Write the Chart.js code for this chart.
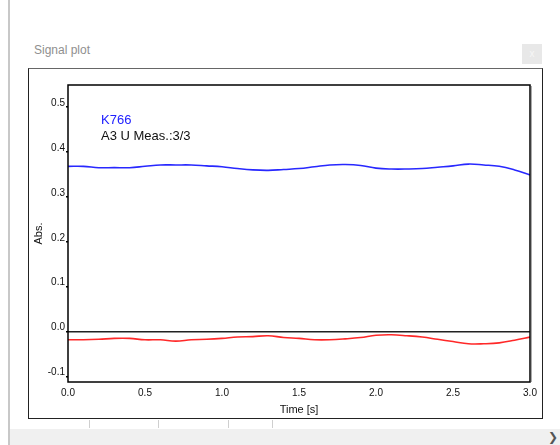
<!DOCTYPE html>
<html>
<head>
<meta charset="utf-8">
<script src="https://cdn.jsdelivr.net/npm/chart.js@4/dist/chart.umd.min.js"></script>
<style>
  body { margin: 0; width: 560px; height: 445px; background: #fff; position: relative; overflow: hidden; font-family: "Liberation Sans", Arial, sans-serif; }
  #sideBar { position: absolute; left: 8px; top: 0; width: 2px; height: 445px; background: #c8c8c8; }
  #title { position: absolute; left: 34px; top: 43px; font-size: 12px; line-height: 14px; color: #8f8f8f; }
  #closeBtn { position: absolute; left: 522px; top: 44px; width: 20px; height: 20px; background: #e8e8e8; color: #f6f6f6; font-size: 10px; line-height: 20px; text-align: center; }
  #box { position: absolute; left: 28px; top: 68px; width: 513px; height: 349px; border: 1px solid #222; border-top: 1px solid #666; }
  .legendLine { position: absolute; left: 72px; font-size: 13px; line-height: 16.7px; white-space: nowrap; }
  .tabTick { position: absolute; top: 420px; width: 1px; height: 8px; background: #cfcfcf; }
  #bottomBar { position: absolute; left: 10px; top: 429px; width: 550px; height: 16px; background: #f0f0f0; }
  #arrow { position: absolute; right: 2px; top: 429px; font-size: 12px; line-height: 16px; color: #555; }
</style>
</head>
<body>
<div id="sideBar"></div>
<div id="title">Signal plot</div>
<div id="closeBtn">x</div>
<div id="box">
  <canvas id="signalChart" width="513" height="349"></canvas>
  <div class="legendLine" style="top:42.5px;color:#2020ff;">K766</div>
  <div class="legendLine" style="top:59.2px;color:#111;">A3 U Meas.:3/3</div>
</div>
<div class="tabTick" style="left:89px"></div>
<div class="tabTick" style="left:158px"></div>
<div class="tabTick" style="left:228px"></div>
<div class="tabTick" style="left:272px"></div>
<div id="bottomBar"></div>
<div id="arrow">&#x276F;</div>
<script>
const times = [0.0, 0.1, 0.2, 0.3, 0.4, 0.5, 0.6, 0.7, 0.8, 0.9,
               1.0, 1.1, 1.2, 1.3, 1.4, 1.5, 1.6, 1.7, 1.8, 1.9,
               2.0, 2.1, 2.2, 2.3, 2.4, 2.5, 2.6, 2.7, 2.8, 2.9, 3.0];
const blueValues = [0.368, 0.368, 0.365, 0.365, 0.365, 0.368, 0.371, 0.371, 0.371, 0.369,
                    0.367, 0.363, 0.360, 0.359, 0.361, 0.363, 0.367, 0.371, 0.372, 0.370,
                    0.364, 0.362, 0.362, 0.363, 0.366, 0.369, 0.373, 0.371, 0.368, 0.360, 0.349];
const redValues = [-0.018, -0.018, -0.017, -0.015, -0.015, -0.018, -0.018, -0.021, -0.018, -0.017,
                   -0.015, -0.012, -0.011, -0.009, -0.013, -0.015, -0.018, -0.018, -0.016, -0.013,
                   -0.008, -0.007, -0.009, -0.012, -0.017, -0.022, -0.027, -0.027, -0.025, -0.019, -0.012];
const xTicks = [0.0, 0.5, 1.0, 1.5, 2.0, 2.5, 3.0];
const yTicks = [-0.1, 0.0, 0.1, 0.2, 0.3, 0.4, 0.5];

const ctx = document.getElementById("signalChart").getContext("2d");
const tickFont = { family: "Liberation Sans", size: 10 };
const titleFont = { family: "Liberation Sans", size: 11 };

// black frame round the plot area, with the grey shade on its right side
const framePlugin = {
    id: "frame",
    afterDraw: (chart) => {
        const a = chart.chartArea;
        const c = chart.ctx;
        c.save();
        c.strokeStyle = "#aaa";
        c.lineWidth = 1;
        c.beginPath();
        c.moveTo(a.right + 1.5, a.top + 1);
        c.lineTo(a.right + 1.5, a.bottom);
        c.stroke();
        c.strokeStyle = "#000";
        c.lineWidth = 1.5;
        c.strokeRect(a.left, a.top, a.right - a.left, a.bottom - a.top);
        c.restore();
    }
};

const toPoints = (values) => times.map((t, i) => ({ x: t, y: values[i] }));

new Chart(ctx, {
    type: "line",
    data: {
        datasets: [
            { label: "K766", data: toPoints(blueValues), borderColor: "#2828ff", borderWidth: 1.6, pointRadius: 0, tension: 0.4 },
            { label: "A3", data: toPoints(redValues), borderColor: "#ff2828", borderWidth: 1.6, pointRadius: 0, tension: 0.4 }
        ]
    },
    options: {
        responsive: false,
        animation: false,
        layout: { padding: { top: 16, right: 12, bottom: 0, left: 0 } },
        plugins: { legend: { display: false }, tooltip: { enabled: false } },
        scales: {
            x: {
                type: "linear",
                min: 0,
                max: 3,
                afterBuildTicks: (scale) => { scale.ticks = xTicks.map(v => ({ value: v })); },
                afterFit: (scale) => { scale.height = 36; },
                grid: { display: false, drawTicks: false, tickLength: 0 },
                border: { display: false },
                ticks: { font: tickFont, color: "#111", padding: 5, maxRotation: 0, callback: (v) => v.toFixed(1) },
                title: { display: true, text: "Time [s]", font: titleFont, color: "#111", padding: { top: 0, bottom: 1 } }
            },
            y: {
                type: "linear",
                min: -0.112,
                max: 0.549,
                afterBuildTicks: (scale) => { scale.ticks = yTicks.map(v => ({ value: v })); },
                afterFit: (scale) => { scale.width = 39; },
                grid: {
                    color: (c) => (c.tick && Math.abs(c.tick.value) < 1e-9 ? "#222" : "rgba(0,0,0,0)"),
                    lineWidth: 1.5,
                    tickColor: "#000",
                    tickLength: 2
                },
                border: { display: false },
                ticks: { font: tickFont, color: "#111", padding: 1, labelOffset: -4, callback: (v) => v.toFixed(1) },
                title: { display: true, text: "Abs.", font: titleFont, color: "#111", padding: { top: 3, bottom: 0 } }
            }
        }
    },
    plugins: [framePlugin]
});
</script>
</body>
</html>
